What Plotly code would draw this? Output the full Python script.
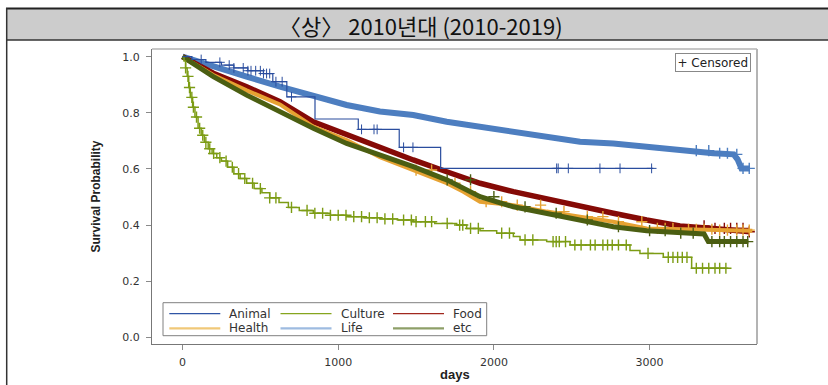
import plotly.graph_objects as go

# ---------------- data ----------------
groups = ["Animal", "Culture", "Food", "Health", "Life", "etc"]

animal_t = [0, 60, 150, 250, 330, 420, 520, 580, 670, 851, 1129, 1392, 1658, 3024]
animal_s = [1.0, 0.99, 0.98, 0.97, 0.96, 0.95, 0.94, 0.911, 0.857, 0.778, 0.741, 0.677, 0.602, 0.602]
animal_c = [120, 240, 300, 330, 390, 420, 440, 470, 500, 520, 540, 560, 600, 640, 700,
            1150, 1230, 1250, 1420, 1480, 2403, 2413, 2478, 2681, 2810, 3013]

culture_t = [0, 10, 20, 30, 40, 50, 65, 80, 100, 120, 140, 165, 190, 220, 250, 290, 330, 370,
             412, 460, 510, 560, 620, 680, 750, 840, 950, 1054, 1160, 1268, 1380, 1482, 1620,
             1761, 1825, 1911, 2018, 2125, 2168, 2339, 2489, 2874, 2938, 3088, 3270, 3506]
culture_s = [1.0, 0.985, 0.96, 0.93, 0.89, 0.855, 0.82, 0.785, 0.745, 0.72, 0.695, 0.672, 0.655,
             0.64, 0.628, 0.606, 0.583, 0.566, 0.549, 0.53, 0.515, 0.497, 0.48, 0.463, 0.452,
             0.442, 0.435, 0.43, 0.426, 0.422, 0.418, 0.412, 0.406, 0.400, 0.388, 0.380, 0.371,
             0.359, 0.347, 0.341, 0.329, 0.309, 0.299, 0.285, 0.246, 0.246]
culture_c = [20, 35, 45, 60, 70, 90, 110, 130, 150, 175, 200, 240, 280, 320, 360, 400, 450, 500,
             560, 600, 700, 800, 850, 900, 950, 1000, 1050, 1100, 1150, 1200, 1250, 1300, 1350,
             1420, 1470, 1500, 1560, 1600, 1700, 1780, 1800, 1850, 1900, 2050, 2100, 2200, 2250,
             2380, 2400, 2420, 2460, 2520, 2560, 2620, 2650, 2700, 2730, 2760, 2800, 2850, 2990,
             3120, 3150, 3180, 3210, 3240, 3300, 3340, 3380, 3420, 3450, 3490]

food_t = [0, 198, 412, 626, 840, 1054, 1268, 1482, 1697, 1911, 2125, 2339, 2553, 2767, 2981,
          3088, 3195, 3409, 3624, 3645]
food_s = [1.0, 0.941, 0.893, 0.840, 0.768, 0.721, 0.674, 0.632, 0.590, 0.549, 0.519, 0.492,
          0.465, 0.442, 0.418, 0.406, 0.397, 0.388, 0.376, 0.376]
food_c = [3350, 3420, 3480, 3520, 3560, 3600, 3640]

health_t = [0, 198, 412, 626, 840, 1054, 1268, 1482, 1697, 1804, 1911, 2125, 2339, 2553, 2767,
            2981, 3195, 3409, 3660]
health_s = [1.0, 0.935, 0.880, 0.830, 0.751, 0.703, 0.642, 0.596, 0.549, 0.519, 0.483, 0.471,
            0.448, 0.430, 0.412, 0.388, 0.385, 0.382, 0.380]
health_c = [1500, 1600, 1750, 1850, 1950, 2050, 2150, 2300, 2450, 2600, 2700, 2800, 2950, 3050,
            3100, 3150, 3250, 3300, 3350, 3400, 3450, 3500, 3560, 3600, 3640]

life_t = [0, 198, 412, 626, 840, 1054, 1268, 1482, 1697, 1911, 2125, 2339, 2553, 2767, 2981,
          3195, 3409, 3540, 3565, 3590, 3645]
life_s = [1.0, 0.964, 0.929, 0.893, 0.860, 0.828, 0.805, 0.792, 0.768, 0.751, 0.733, 0.715,
          0.697, 0.691, 0.679, 0.665, 0.656, 0.652, 0.634, 0.602, 0.602]
life_c = [3300, 3380, 3450, 3500, 3560, 3600, 3640]

etc_t = [0, 198, 412, 626, 840, 1054, 1268, 1482, 1697, 1911, 2125, 2339, 2553, 2767, 2981,
         3195, 3350, 3377, 3634]
etc_s = [1.0, 0.929, 0.863, 0.804, 0.745, 0.691, 0.650, 0.608, 0.561, 0.501, 0.465, 0.442,
         0.418, 0.394, 0.380, 0.371, 0.368, 0.341, 0.341]
etc_c = [1700, 1850, 2000, 2200, 2400, 2600, 2800, 3000, 3100, 3200, 3280, 3400, 3450, 3480,
         3520, 3560, 3600, 3630]

x_ticks = [0, 1000, 2000, 3000]
y_ticks = [0.0, 0.2, 0.4, 0.6, 0.8, 1.0]

# ---------------- styles ----------------
FONT = "DejaVu Sans"
series = {
    "Animal":  dict(t=animal_t,  s=animal_s,  c=animal_c,  color="#2a4d9e", lw=1.2, shape="hv",
                    leg="#2f55a5", ms=7, mw=1.0),
    "Culture": dict(t=culture_t, s=culture_s, c=culture_c, color="#7c9c14", lw=1.5, shape="hv",
                    leg="#86a51e", ms=8, mw=1.4),
    "Food":    dict(t=food_t,    s=food_s,    c=food_c,    color="#850a06", lw=5.5, shape="linear",
                    leg="#a1281e", ms=8, mw=1.4),
    "Health":  dict(t=health_t,  s=health_s,  c=health_c,  color="#e6a232", lw=4.0, shape="linear",
                    leg="#f0c878", ms=8, mw=1.4),
    "Life":    dict(t=life_t,    s=life_s,    c=life_c,    color="#4d7ec0", lw=6.0, shape="linear",
                    leg="#9ebbe0", ms=8, mw=1.4),
    "etc":     dict(t=etc_t,     s=etc_s,     c=etc_c,     color="#4b5e12", lw=5.0, shape="linear",
                    leg="#8e9f68", ms=8, mw=1.4),
}
draw_order = ["Life", "Food", "Health", "etc", "Culture", "Animal"]


def surv_at(t_arr, s_arr, t):
    val = s_arr[0]
    for ti, si in zip(t_arr, s_arr):
        if ti <= t:
            val = si
        else:
            break
    return val


# ---------------- layout geometry ----------------
W, H = 828, 385
ML, MR, MT, MB = 152, 71, 49, 41
PW, PH = W - ML - MR, H - MT - MB


def px(x):
    return (x - ML) / PW


def py(y):
    return (H - MB - y) / PH


fig = go.Figure()
for g in draw_order:
    d = series[g]
    fig.add_trace(go.Scatter(
        x=d["t"], y=d["s"], mode="lines", line=dict(color=d["color"], width=d["lw"], shape=d["shape"]),
        showlegend=False, hoverinfo="skip"))
    fig.add_trace(go.Scatter(
        x=d["c"], y=[surv_at(d["t"], d["s"], c) for c in d["c"]], mode="markers",
        marker=dict(symbol="cross-thin", size=d["ms"], color=d["color"],
                    line=dict(color=d["color"], width=d["mw"])),
        showlegend=False, hoverinfo="skip"))

shapes = []
annotations = []

# title band
shapes.append(dict(type="rect", xref="paper", yref="paper", x0=px(6), x1=px(832), y0=py(40), y1=py(8.5),
                   fillcolor="#cccccc", line=dict(width=0), layer="below"))
shapes.append(dict(type="line", xref="paper", yref="paper", x0=px(6), x1=px(832), y0=py(8.5), y1=py(8.5),
                   line=dict(color="#222222", width=2)))
shapes.append(dict(type="line", xref="paper", yref="paper", x0=px(6), x1=px(832), y0=py(40), y1=py(40),
                   line=dict(color="#333333", width=1.5)))
shapes.append(dict(type="line", xref="paper", yref="paper", x0=px(6.7), x1=px(6.7), y0=py(8), y1=py(390),
                   line=dict(color="#333333", width=1.5)))
# frame top/right
shapes.append(dict(type="line", xref="paper", yref="paper", x0=0, x1=1, y0=1, y1=1,
                   line=dict(color="#b4b4b4", width=1.5)))
shapes.append(dict(type="line", xref="paper", yref="paper", x0=1, x1=1, y0=0, y1=1,
                   line=dict(color="#b4b4b4", width=2)))

annotations.append(dict(text="〈상〉 2010년대 (2010-2019)", xref="paper", yref="paper",
                        x=px(421), y=py(24.5), showarrow=False, xanchor="center", yanchor="middle",
                        font=dict(family="Noto Sans CJK KR", size=22, color="#111111")))
annotations.append(dict(text="Survival Probability", xref="paper", yref="paper", x=px(95), y=py(196.5),
                        textangle=-90, showarrow=False, xanchor="center", yanchor="middle",
                        font=dict(family="Liberation Sans", size=12, color="#222222", weight="bold")))
annotations.append(dict(text="days", xref="paper", yref="paper", x=px(455), y=py(375),
                        showarrow=False, xanchor="center", yanchor="middle",
                        font=dict(family="Liberation Sans", size=13, color="#222222", weight="bold")))
annotations.append(dict(text="+ Censored", xref="paper", yref="paper", x=px(712.7), y=py(62.7),
                        showarrow=False, xanchor="center", yanchor="middle", bordercolor="#888888",
                        borderwidth=1, borderpad=1.5, bgcolor="white",
                        font=dict(family=FONT, size=12, color="#222222")))

# legend (manual)
shapes.append(dict(type="rect", xref="paper", yref="paper", x0=px(163), x1=px(486.7), y0=py(335.7), y1=py(302.7),
                   line=dict(color="#808080", width=1), fillcolor="white"))
legend_rows = [["Animal", "Culture", "Food"], ["Health", "Life", "etc"]]
row_y = [313.7, 328.3]
col_x = [169.3, 280.5, 393]
for ri, row in enumerate(legend_rows):
    for ci, g in enumerate(row):
        x0 = col_x[ci]
        yy = row_y[ri]
        thick = 1.3 if g in ("Animal", "Culture", "Food") else 2.2
        shapes.append(dict(type="line", xref="paper", yref="paper", x0=px(x0), x1=px(x0 + 51),
                           y0=py(yy), y1=py(yy), line=dict(color=series[g]["leg"], width=thick)))
        annotations.append(dict(text=g, xref="paper", yref="paper", x=px(x0 + 58), y=py(yy),
                                showarrow=False, xanchor="left", yanchor="middle",
                                font=dict(family=FONT, size=12, color="#333333")))

x0_px, per1000 = 182.5, 155.7
y1_px, y0_px = 56.7, 337.3
x_range = [(ML - x0_px) / per1000 * 1000, (W - MR - x0_px) / per1000 * 1000]
yunit = y0_px - y1_px
y_range = [-(H - MB - y0_px) / yunit, 1 + (y1_px - MT) / yunit]

fig.update_layout(
    width=W, height=H, margin=dict(l=ML, r=MR, t=MT, b=MB),
    paper_bgcolor="white", plot_bgcolor="white",
    showlegend=False,
    shapes=shapes, annotations=annotations,
    xaxis=dict(range=x_range, tickvals=x_ticks, ticktext=[str(v) for v in x_ticks],
               ticks="outside", ticklen=5, tickcolor="#8a8a8a", tickwidth=1,
               showline=True, linecolor="#777777", linewidth=1.3, showgrid=False, zeroline=False,
               tickfont=dict(family=FONT, size=11, color="#333333"), ticklabelstandoff=3),
    yaxis=dict(range=y_range, tickvals=y_ticks, tickformat=".1f",
               ticks="outside", ticklen=5, tickcolor="#8a8a8a", tickwidth=1,
               showline=True, linecolor="#777777", linewidth=1.3, showgrid=False, zeroline=False,
               tickfont=dict(family=FONT, size=11, color="#333333"), ticklabelstandoff=4),
)

fig.write_html("out.html")
